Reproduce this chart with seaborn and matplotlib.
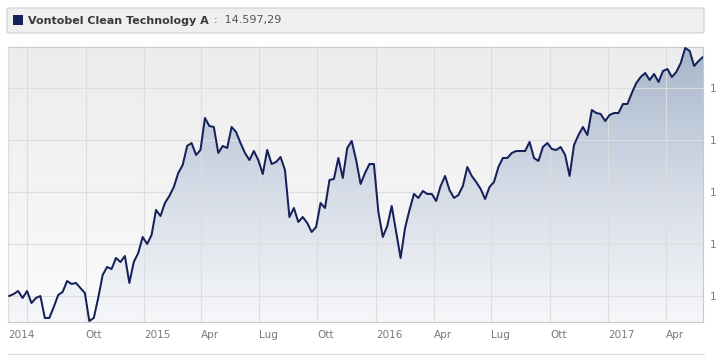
import numpy as np
import pandas as pd
import matplotlib
matplotlib.use("Agg")
import matplotlib.pyplot as plt
import matplotlib.dates as mdates
from matplotlib.patches import FancyBboxPatch, Rectangle, Polygon
import seaborn as sns

# ---------------- data ----------------
series_name = "Vontobel Clean Technology A"
last_value_label = "14.597,29"
start_date = "2014-06-03"

values = [
    10000, 10038, 10096, 9962, 10096, 9865, 9962, 10000, 9577, 9577,
    9788, 10019, 10077, 10288, 10231, 10250, 10154, 10058, 9519, 9577,
    9962, 10404, 10558, 10519, 10731, 10654, 10769, 10250, 10654, 10827,
    11135, 11000, 11173, 11654, 11538, 11788, 11923, 12096, 12365,
    12519, 12885, 12942, 12712, 12808, 13423, 13269, 13250, 12750, 12885,
    12846, 13250, 13154, 12942, 12750, 12615, 12788, 12615, 12346, 12808,
    12538, 12577, 12673, 12423, 11519, 11692, 11423, 11519, 11404, 11231,
    11327, 11788, 11692, 12231, 12250, 12654, 12269, 12846,
    12981, 12615, 12154, 12365, 12538, 12538, 11615, 11135, 11346, 11731,
    11231, 10731, 11308, 11654, 11962, 11885, 12019, 11962, 11962, 11827,
    12115, 12308, 12038, 11885, 11942, 12115, 12481, 12308, 12192, 12058,
    11865, 12096, 12192, 12481, 12654, 12654, 12750, 12788, 12788,
    12788, 12962, 12654, 12596, 12865, 12942, 12827, 12808, 12865, 12712,
    12308, 12904, 13096, 13250, 13096, 13577, 13519, 13500, 13365, 13481,
    13519, 13519, 13692, 13692, 13904, 14096, 14212, 14288, 14154, 14269,
    14115, 14327, 14365, 14212, 14308, 14481, 14769, 14712, 14423, 14519,
    14597.29,
]

x_tick_dates = ["2014-07-01", "2014-10-01", "2015-01-01", "2015-04-01", "2015-07-01",
                "2015-10-01", "2016-01-01", "2016-04-01", "2016-07-01", "2016-10-01",
                "2017-01-01", "2017-04-01"]
x_tick_labels = ["", "Ott", "2015", "Apr", "Lug", "Ott", "2016", "Apr", "Lug", "Ott",
                 "2017", "Apr"]
first_label = "2014"
y_ticks = [10000, 11000, 12000, 13000, 14000]
y_tick_labels = ["1", "1", "1", "1", "1"]

dates = pd.date_range(start_date, periods=len(values), freq="7D")
df = pd.DataFrame({"date": dates, "value": values})

# ---------------- figure ----------------
W, H = 716, 358
fig = plt.figure(figsize=(W / 100, H / 100), dpi=100)
fig.patch.set_facecolor("white")

ax_l, ax_r, ax_t, ax_b = 8, 703, 47, 322
ax = fig.add_axes([ax_l / W, 1 - ax_b / H, (ax_r - ax_l) / W, (ax_b - ax_t) / H])

line_color = "#14215a"

xmin = mdates.date2num(dates[0]) - 2
xmax = mdates.date2num(dates[-1])
ymin, ymax = 9500, 14788
ax.set_xlim(xmin, xmax)
ax.set_ylim(ymin, ymax)

# background gradient of plot area
bg = np.linspace(0, 1, 256).reshape(-1, 1)
bg_cmap = matplotlib.colors.LinearSegmentedColormap.from_list("bg", ["#fbfbfb", "#ececec"])
ax.imshow(bg, aspect="auto", cmap=bg_cmap, origin="lower",
          extent=[xmin, xmax, ymin, ymax], zorder=0)

# gradient fill under the line
fill_cmap = matplotlib.colors.LinearSegmentedColormap.from_list(
    "fill", ["#f6f7f9", "#d4dbe6", "#a7b6cb"])
grad = ax.imshow(bg, aspect="auto", cmap=fill_cmap, origin="lower",
                 extent=[xmin, xmax, ymin, ymax], zorder=1)
xs = mdates.date2num(df["date"])
poly_pts = np.column_stack([np.r_[xs[0], xs, xs[-1]], np.r_[ymin, df["value"], ymin]])
clip = Polygon(poly_pts, closed=True, facecolor="none", edgecolor="none",
               transform=ax.transData)
ax.add_patch(clip)
grad.set_clip_path(clip)

sns.lineplot(data=df, x="date", y="value", ax=ax, color=line_color, linewidth=1.45,
             zorder=3)

# grid & ticks
tick_nums = [xmin] + [mdates.date2num(pd.Timestamp(d)) for d in x_tick_dates]
ax.set_xticks(tick_nums)
ax.set_xticklabels([first_label] + x_tick_labels, ha="left")
ax.set_yticks(y_ticks)
ax.yaxis.tick_right()
ax.set_yticklabels(y_tick_labels)
ax.grid(True, color="#dddddd", linewidth=0.8, zorder=0.5)
ax.set_axisbelow(False)
for gl in ax.get_xgridlines() + ax.get_ygridlines():
    gl.set_zorder(1.5)
ax.tick_params(axis="both", length=0, labelsize=7.5, colors="#7a7a7a")
ax.tick_params(axis="x", pad=6)
ax.tick_params(axis="y", pad=5)
ax.set_xlabel("")
ax.set_ylabel("")
for s in ax.spines.values():
    s.set_color("#c8c8c8")
    s.set_linewidth(0.8)

# header box
hx0, hx1, hy0, hy1 = 7, 704, 8, 33
header = FancyBboxPatch((hx0 / W, 1 - hy1 / H), (hx1 - hx0) / W, (hy1 - hy0) / H,
                        boxstyle="round,pad=0,rounding_size=0.004",
                        transform=fig.transFigure, facecolor="#efefef",
                        edgecolor="#d0d0d0", linewidth=0.8)
fig.patches.append(header)
fig.patches.append(Rectangle((13 / W, 1 - 25 / H), 10 / W, 10 / H,
                             transform=fig.transFigure, facecolor=line_color,
                             edgecolor="none"))
t1 = fig.text(28 / W, 1 - 20.5 / H, series_name, fontsize=8, fontweight="bold",
              color="#3a3a3a", va="center", ha="left")
fig.canvas.draw()
bb = t1.get_window_extent()
fig.text((bb.x1 + 5) / W, 1 - 20.5 / H, ":  " + last_value_label, fontsize=8,
         color="#555555", va="center", ha="left")

# bottom separator line
fig.add_artist(plt.Line2D([8 / W, 704 / W], [1 - 354 / H, 1 - 354 / H],
                          transform=fig.transFigure, color="#dadada", linewidth=0.8))

fig.savefig("out.png", dpi=100)
